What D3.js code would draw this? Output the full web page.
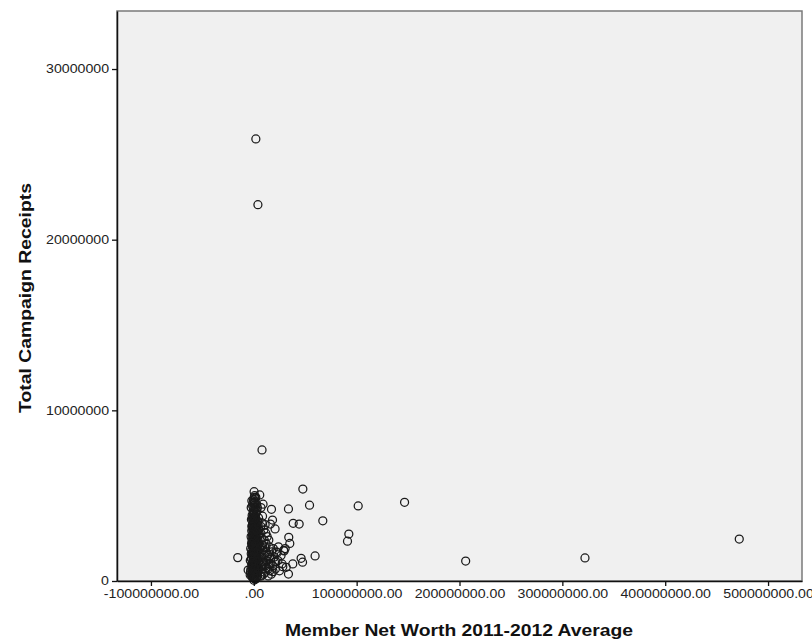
<!DOCTYPE html>
<meta charset="utf-8">
<style>
body { margin: 0; background: #fff; }
.tick text { font: 12px "Liberation Sans", Arial, sans-serif; fill: #222; }
.title { font: bold 17px "Liberation Sans", Arial, sans-serif; fill: #111; text-anchor: middle; }
.pt { fill: none; stroke: #1a1a1a; stroke-width: 1.25; }
</style>
<svg width="812" height="640"></svg>
<script src="https://cdn.jsdelivr.net/npm/d3@7"></script>
<script>

// values in millions of dollars: [net worth, campaign receipts]
var coreMembers = [
  [-2.1,0.3],[0.4,0.15],[1.2,0.45],[-0.8,0.6],[2.5,0.7],[0.1,0.85],[-1.5,0.95],[3.1,1.0],[0.9,1.1],[-0.3,1.2],
  [1.8,1.25],[-2.4,1.3],[4.2,1.35],[0.6,1.4],[-1.1,1.5],[2.2,1.55],[0.2,1.6],[3.5,1.65],[-0.6,1.7],[1.4,1.75],
  [-1.9,1.8],[0.8,1.85],[2.9,1.9],[-0.2,1.95],[1.1,2.0],[-1.3,2.05],[3.8,2.1],[0.5,2.15],[-0.9,2.2],[2.0,2.25],
  [0.0,2.3],[1.6,2.35],[-1.7,2.4],[2.7,2.45],[0.3,2.5],[-0.5,2.55],[1.9,2.6],[4.5,2.65],[-1.2,2.7],[0.7,2.75],
  [2.4,2.8],[-0.1,2.85],[1.3,2.9],[-2.0,2.95],[0.9,3.0],[3.2,3.05],[-0.7,3.1],[1.5,3.15],[0.2,3.2],[-1.4,3.25],
  [2.6,3.3],[0.4,3.35],[-0.4,3.4],[1.7,3.45],[3.9,3.5],[-1.0,3.55],[0.6,3.6],[2.1,3.65],[-0.2,3.7],[1.0,3.8],
  [-1.6,3.85],[0.3,3.9],[2.3,4.0],[-0.6,4.1],[1.2,4.2],[0.0,4.3],[-1.1,4.4],[2.8,4.5],[0.5,4.6],[-0.3,4.75],
  [1.4,4.85],[0.8,5.0],[0.1,0.05],[1.5,0.1],[-0.5,0.2],[2.8,0.25],[0.7,0.35],[-1.8,0.4],[3.6,0.5],[1.0,0.55],
  [-0.2,0.65],[2.0,0.75],[-1.2,0.8],[0.4,0.9],[1.7,1.05],[-0.9,1.15],[2.6,1.2],[0.0,1.3],[-2.8,0.7],[-3.2,0.55],
  [5.0,0.6],[4.8,1.1],[5.5,1.6],[5.2,2.2],[4.9,3.0],[-3.0,1.9],[-2.6,2.6],[-3.4,1.2],[6.0,0.3],[5.8,1.9],
  [-3.5,0.35],[5.3,2.8],[4.6,3.7],[-2.3,3.6],[-2.5,4.3],[3.0,4.1],[2.0,4.9],[-1.9,4.7],[1.0,0.25],[-0.4,1.0],
  [0.5,1.25],[1.3,1.45],[-0.8,1.65],[0.9,2.0],[-0.1,2.2],[1.1,2.45],[-1.0,2.65],[0.2,2.95],[1.8,3.15],[-0.9,3.3],
  [0.6,3.45],[1.4,3.75],[-0.4,3.95],[0.9,4.45],
  [0.3,0.4],[2.1,0.5],[-1.0,0.5],[1.6,0.6],[3.3,0.8],[-0.5,0.75],[1.1,0.8],[2.9,0.55],[-1.6,0.7],[0.6,0.7],
  [2.3,0.95],[-0.1,1.05],[1.4,0.95],[3.9,0.9],[-1.2,1.05],[0.7,1.2],[2.0,1.4],[3.2,1.3],[-0.7,1.35],[1.0,1.55],
  [2.7,1.6],[-0.3,1.5],[0.4,1.75],[1.9,1.8],[3.0,1.7],[-1.4,1.6],[0.1,1.85],[1.2,1.95],[2.5,2.05],[-0.6,2.0],
  [3.4,2.3],[0.6,2.4],[1.4,2.15],[-1.5,2.25],[2.2,2.5],[0.0,2.65],[1.0,2.6],[3.0,2.65],[-0.7,2.8],[1.6,2.75],
  [2.9,3.0],[0.5,3.1],[-1.1,3.0],[1.2,3.3],[2.2,3.45],[-0.1,3.55],[1.9,3.9],[0.8,3.65],[-1.3,3.7],[0.2,4.05],
  [1.6,4.3],[-0.8,4.55],[0.4,4.9],[1.1,4.65],[-0.5,0.45],[1.9,0.35],[0.9,0.15],[-1.3,0.2],[2.4,0.15],[3.7,0.3],
  [4.0,0.7],[4.4,1.8],[4.1,2.4],[3.6,2.9],[4.2,3.3],[-2.2,2.2],[-2.1,1.0],[-2.5,1.6],[-1.9,3.2],[3.5,4.3]
];

var spreadMembers = [
  [7.5,0.3],[8.2,0.7],[9.5,1.0],[10.8,0.5],[8.0,1.4],[11.5,1.2],[12.3,0.8],[9.0,1.8],[13.5,1.5],[10.5,2.0],
  [14.8,1.0],[15.6,0.6],[12.0,2.2],[16.5,1.3],[7.8,2.5],[13.0,2.6],[17.5,1.7],[18.4,0.9],[19.8,1.4],[21.0,0.7],
  [9.8,3.0],[11.0,3.3],[8.5,3.8],[7.0,4.3],[6.5,2.0],[6.8,3.2],[15.0,2.0],[19.0,1.9],[23.5,1.2],[25.0,0.6],
  [26.5,1.5],[24.0,2.0],[22.0,1.7],[27.5,1.0],[30.5,1.9],[31.5,0.8],[20.2,1.1],[17.0,0.4],[14.0,0.3],[29.0,1.8],
  [7.2,0.9],[8.8,1.1],[10.0,1.5],[11.2,0.9],[12.8,1.2],[9.3,0.4],[13.8,0.7],[15.2,1.4],[16.0,1.0],[10.2,2.4],
  [7.4,1.7],[8.6,2.1],[11.8,1.7],[6.9,2.8],[8.1,3.4]
];

var outliers = [
  [2,25.9],[4,22.05],[8,7.68],[47.7,5.39],[101.5,4.4],[54.2,4.44],[33.7,4.22],[67.1,3.53],[38.3,3.38],[44.1,3.34],
  [92.4,2.75],[91.1,2.33],[59.6,1.47],[-15.6,1.37],[46,1.33],[47.4,1.1],[37.9,1.0],[33.7,0.41],[34,2.56],[35,2.2],
  [17.2,4.2],[9,4.5],[5.8,5.04],[0.3,5.23],[18.2,3.57],[20.7,3.05],[16.2,3.34],[29.5,1.76],[22.7,1.66],[21.4,1.13],
  [18.8,0.55],[28.2,0.84],[14.6,2.4],[11.7,2.8],[-5.5,0.64],[146.6,4.61],[206,1.17],[322,1.35],[472,2.46]
];

var xTicks = [-100000000, 0, 100000000, 200000000, 300000000, 400000000, 500000000];
var yTicks = [0, 10000000, 20000000, 30000000];

var svg = d3.select("svg"),
    margin = {top: 11, right: 10, bottom: 59, left: 117},
    width = +svg.attr("width") - margin.left - margin.right,
    height = +svg.attr("height") - margin.top - margin.bottom;

var x = d3.scaleLinear().domain([-133e6, 533e6]).range([0, width]);
var y = d3.scaleLinear().domain([0, 33.4e6]).range([height, 0]);

var g = svg.append("g").attr("transform", "translate(" + margin.left + "," + margin.top + ")");

g.append("rect")
    .attr("width", width)
    .attr("height", height)
    .attr("fill", "#f0f0f0")
    .attr("stroke", "#7a7a7a")
    .attr("stroke-width", 1.5);

var members = coreMembers.concat(spreadMembers, outliers);

g.selectAll(".pt")
  .data(members)
  .enter().append("circle")
    .attr("class", "pt")
    .attr("cx", function(d) { return x(d[0] * 1e6); })
    .attr("cy", function(d) { return y(d[1] * 1e6); })
    .attr("r", 4);

function xFormat(d) {
  return d === 0 ? ".00" : d3.format(".2f")(d).replace("\u2212", "-");
}

var xAxis = g.append("g")
    .attr("transform", "translate(0," + height + ")")
    .call(d3.axisBottom(x).tickValues(xTicks).tickFormat(xFormat).tickSize(5).tickSizeOuter(0));

var yAxis = g.append("g")
    .call(d3.axisLeft(y).tickValues(yTicks).tickFormat(d3.format("d")).tickSize(5).tickSizeOuter(0));

// the original labels are a bit wider than Arial, so stretch them
function widen(sel, k) {
  sel.each(function() {
    var w = this.getComputedTextLength();
    d3.select(this).attr("textLength", w * k).attr("lengthAdjust", "spacingAndGlyphs");
  });
}

[xAxis, yAxis].forEach(function(a) {
  a.select(".domain").attr("stroke", "#111").attr("stroke-width", 1.5);
  a.selectAll(".tick line").attr("stroke", "#111").attr("stroke-width", 1.3);
  widen(a.selectAll(".tick text"), 1.18);
});

svg.append("text")
    .attr("class", "title")
    .attr("x", 459)
    .attr("y", 636)
    .attr("textLength", 348)
    .attr("lengthAdjust", "spacingAndGlyphs")
    .text("Member Net Worth 2011-2012 Average");

svg.append("text")
    .attr("class", "title")
    .attr("transform", "translate(31,298) rotate(-90)")
    .attr("textLength", 230)
    .attr("lengthAdjust", "spacingAndGlyphs")
    .text("Total Campaign Receipts");

</script>
